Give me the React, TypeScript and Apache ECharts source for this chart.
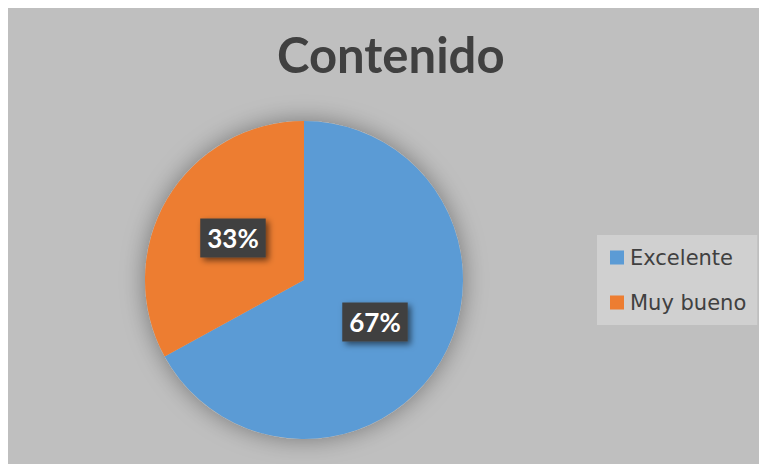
import React, { useEffect, useRef } from "react";
import * as echarts from "echarts";

const titleText = "Contenido";
const categories = ["Excelente", "Muy bueno"];
const values = [67, 33];
const colors = ["#5b9bd5", "#ed7d31"];

export default function App() {
  const ref = useRef<HTMLDivElement>(null);
  useEffect(() => {
    if (!ref.current) return;
    document.documentElement.style.overflow = "hidden";
    document.body.style.overflow = "hidden";
    const chart = echarts.init(ref.current, null, { renderer: "svg" });
    chart.setOption({
      animation: false,
      backgroundColor: "#bfbfbf",
      title: {
        text: titleText,
        left: 264,
        top: 16,
        textStyle: {
          fontFamily: "Lato",
          fontWeight: "bold",
          fontSize: 49,
          color: "#404040",
        },
      },
      legend: {
        orient: "vertical",
        left: 589,
        top: 227,
        width: 136,
        backgroundColor: "#d0d0d0",
        padding: [12, 11, 12, 13],
        itemWidth: 14,
        itemHeight: 14,
        itemGap: 24,
        icon: "rect",
        data: categories,
        textStyle: {
          fontFamily: "DejaVu Sans",
          fontSize: 21,
          color: "#404040",
          padding: [0, 0, 0, 1],
        },
      },
      series: [
        {
          type: "pie",
          silent: true,
          center: [296, 272],
          radius: 159,
          z: 1,
          label: { show: false },
          itemStyle: {
            color: "#bfbfbf",
            shadowBlur: 24,
            shadowColor: "rgba(0,0,0,0.38)",
          },
          data: [{ value: 1, name: "_shadow" }],
          legendHoverLink: false,
        },
        {
          type: "pie",
          center: [296, 272],
          radius: 159,
          startAngle: 90,
          clockwise: true,
          z: 2,
          data: categories.map((c, i) => ({
            name: c,
            value: values[i],
            itemStyle: { color: colors[i] },
          })),
          label: {
            show: true,
            position: "inside",
            formatter: (p: any) => p.value + "%",
            fontFamily: "Lato",
            fontWeight: "bold",
            fontSize: 26,
            color: "#ffffff",
            backgroundColor: "#404040",
            padding: [7, 7, 6, 7],
            shadowColor: "rgba(0,0,0,0.55)",
            shadowBlur: 6,
            shadowOffsetX: 3,
            shadowOffsetY: 3,
          },
          labelLine: { show: false },
        },
      ],
    });
    return () => chart.dispose();
  }, []);
  return (
    <div
      ref={ref}
      style={{ position: "fixed", left: 8, top: 8, width: 751, height: 456 }}
    />
  );
}
